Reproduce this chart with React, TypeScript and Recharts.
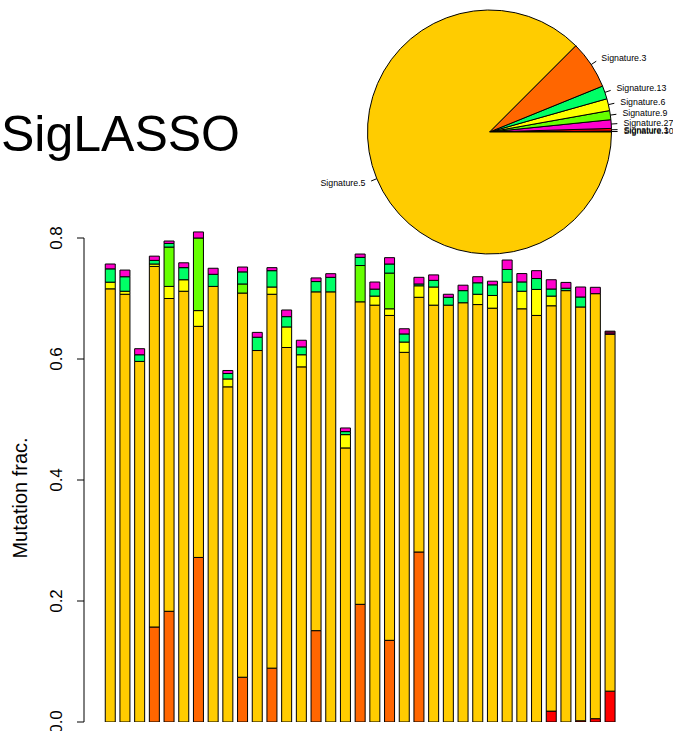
import React from "react";
import { BarChart, Bar, XAxis, YAxis, ReferenceLine, PieChart, Pie, Cell } from "recharts";

const categories = [
  "S1","S2","S3","S4","S5","S6","S7","S8","S9","S10","S11","S12","S13","S14","S15","S16","S17","S18",
  "S19","S20","S21","S22","S23","S24","S25","S26","S27","S28","S29","S30","S31","S32","S33","S34","S35",
];

const sig1 = [0,0,0,0,0,0,0,0,0,0,0,0,0,0,0,0,0,0,0,0,0,0,0,0,0,0,0,0,0,0,0.018,0,0.002,0.0055,0.051];
const sig3 = [0,0,0,0.157,0.183,0,0.272,0,0,0.074,0,0.089,0,0,0.151,0,0,0.1945,0,0.135,0,0.281,0,0,0,0,0,0,0,0,0,0,0,0,0];
const sig5 = [0.716,0.707,0.596,0.596,0.517,0.712,0.382,0.72,0.554,0.635,0.614,0.618,0.619,0.587,0.56,0.711,0.453,0.5,
  0.689,0.537,0.611,0.421,0.689,0.689,0.693,0.69,0.684,0.727,0.683,0.672,0.67,0.713,0.684,0.7025,0.59];
const sig6 = [0.011,0.005,0,0.004,0.02,0.019,0.026,0,0.013,0,0,0.012,0.034,0.02,0,0,0.022,0,0.015,0.011,0.017,0.019,0.03,0,0,0.017,0.021,0,0.029,0.043,0.016,0,0,0,0];
const sig9 = [0,0,0,0,0.065,0,0.12,0,0,0.015,0,0,0,0,0,0,0,0.06,0,0.059,0,0,0,0,0,0,0,0,0,0,0,0,0,0,0];
const sig13 = [0.022,0.024,0.011,0.006,0.006,0.02,0,0.02,0.009,0.02,0.022,0.027,0.017,0.013,0.017,0.024,0.005,0.0135,0.0115,0.015,0.0134,0.003,0.011,0.013,0.02,0.019,0.0176,0.021,0.0154,0.018,0.0117,0.004,0.0165,0,0];
const sig27 = [0.008,0.011,0.01,0.007,0.004,0.008,0.01,0.01,0.005,0.008,0.008,0.005,0.011,0.011,0.006,0.006,0.006,0.0055,0.0117,0.0105,0.0086,0.011,0.009,0.005,0.009,0.01,0.006,0.0156,0.0138,0.013,0.0153,0.0096,0.0165,0.0105,0];
const sig30 = [0,0,0,0,0,0,0,0,0,0,0,0,0,0,0,0,0,0,0,0,0,0,0,0,0,0,0,0,0,0,0,0,0,0,0.005];

const yTicks = [0, 0.2, 0.4, 0.6, 0.8];

const pieNames = ["Signature.30","Signature.1","Signature.27","Signature.9","Signature.6","Signature.13","Signature.3","Signature.5"];
const pieValues = [0.0012,0.0035,0.0114,0.012,0.0158,0.0175,0.0636,0.875];
const pieColors = ["#660033","#FF0000","#FF00CC","#66FF00","#FFFF00","#00FF66","#FF6600","#FFCC00"];

const seriesKeys = ["sig1","sig3","sig5","sig6","sig9","sig13","sig27","sig30"];
const seriesColors = ["#FF0000","#FF6600","#FFCC00","#FFFF00","#66FF00","#00FF66","#FF00CC","#660033"];
const seriesArrays = [sig1, sig3, sig5, sig6, sig9, sig13, sig27, sig30];

const barData = categories.map((c, i) => {
  const row: any = { name: c };
  seriesKeys.forEach((k, j) => { row[k] = seriesArrays[j][i]; });
  return row;
});

const pieData = pieNames.map((n, i) => ({ name: n, value: pieValues[i] }));

const FONT = "'Liberation Sans', Arial, sans-serif";
const RAD = Math.PI / 180;

const YTick = (props: any) => {
  const { x, y, payload } = props;
  return (
    <text x={x} y={y} transform={`rotate(-90 ${x} ${y})`} textAnchor="middle" fontSize={17} fontFamily={FONT} fill="#000">
      {payload.value.toFixed(1)}
    </text>
  );
};

const PieLabel = (props: any) => {
  const { cx, cy, midAngle, outerRadius, name } = props;
  const c = Math.cos(-midAngle * RAD);
  const s = Math.sin(-midAngle * RAD);
  const x1 = cx + outerRadius * c, y1 = cy + outerRadius * s;
  const x2 = cx + outerRadius * 1.05 * c, y2 = cy + outerRadius * 1.05 * s;
  const tx = cx + outerRadius * 1.1 * c, ty = cy + outerRadius * 1.1 * s;
  return (
    <g>
      <line x1={x1} y1={y1} x2={x2} y2={y2} stroke="#000" strokeWidth={1} />
      <text x={tx} y={ty} textAnchor={c >= 0 ? "start" : "end"} dominantBaseline="central" fontSize={8.8} fontFamily={FONT} fill="#000">
        {name}
      </text>
    </g>
  );
};

export default function App() {
  return (
    <div style={{ position: "absolute", left: 0, top: 0, width: 673, height: 731, background: "#fff", overflow: "hidden" }}>
      <div style={{ position: "absolute", left: 0, top: 0 }}>
        <BarChart width={673} height={731} data={barData} margin={{ top: 207.75, right: 55.7, bottom: 9, left: 0 }} barCategoryGap="16.67%">
          <XAxis dataKey="name" hide padding={{ left: 18.8, right: 0 }} />
          <XAxis xAxisId="ax" type="number" domain={[0, 1]} allowDataOverflow hide />
          <YAxis
            width={84}
            domain={[0, 0.85]}
            ticks={yTicks}
            allowDataOverflow
            axisLine={false}
            tickLine={{ stroke: "#000", strokeWidth: 1 }}
            tickSize={7}
            tickMargin={15.3}
            tick={<YTick />}
            interval={0}
          />
          {seriesKeys.map((k, j) => (
            <Bar key={k} dataKey={k} stackId="a" fill={seriesColors[j]} stroke="#000" strokeWidth={1} isAnimationActive={false} />
          ))}
          <ReferenceLine xAxisId="ax" segment={[{ x: 0, y: 0 }, { x: 0, y: 0.8 }]} stroke="#000" strokeWidth={1} ifOverflow="visible" />
        </BarChart>
      </div>
      <div style={{ position: "absolute", left: 0, top: 0 }}>
        <PieChart width={673} height={300} margin={{ top: 0, right: 0, bottom: 0, left: 0 }}>
          <Pie
            data={pieData}
            dataKey="value"
            nameKey="name"
            cx={489.5}
            cy={132}
            outerRadius={122}
            startAngle={0}
            endAngle={360}
            stroke="#000"
            strokeWidth={1}
            label={<PieLabel />}
            labelLine={false}
            isAnimationActive={false}
          >
            {pieData.map((d, i) => (
              <Cell key={d.name} fill={pieColors[i]} />
            ))}
          </Pie>
        </PieChart>
      </div>
      <svg width={673} height={731} style={{ position: "absolute", left: 0, top: 0, pointerEvents: "none" }}>
        <text x={1} y={151} fontSize={50} fontFamily={FONT} fill="#000">SigLASSO</text>
        <text x={26.7} y={498} transform="rotate(-90 26.7 498)" textAnchor="middle" fontSize={20} fontFamily={FONT} fill="#000">
          Mutation frac.
        </text>
      </svg>
    </div>
  );
}
